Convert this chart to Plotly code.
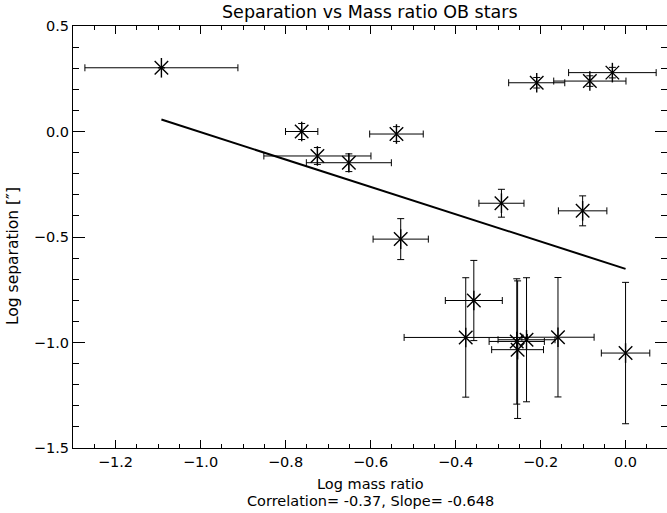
import plotly.graph_objects as go

# ---- data ----
log_q = [-1.092, -0.762, -0.725, -0.651, -0.539, -0.529, -0.292, -0.101, -0.209,
         -0.084, -0.031, -0.357, -0.376, -0.256, -0.254, -0.233, -0.159, 0.000]
log_sep = [0.302, 0.000, -0.116, -0.148, -0.012, -0.510, -0.340, -0.376, 0.231,
           0.239, 0.279, -0.801, -0.976, -0.995, -1.034, -0.987, -0.975, -1.050]
q_err = [0.180, 0.038, 0.126, 0.100, 0.063, 0.065, 0.053, 0.057, 0.066,
         0.085, 0.103, 0.067, 0.145, 0.065, 0.061, 0.067, 0.085, 0.057]
sep_err = [0.000, 0.038, 0.040, 0.042, 0.035, 0.097, 0.066, 0.071, 0.025,
           0.025, 0.025, 0.190, 0.283, 0.297, 0.326, 0.294, 0.283, 0.335]

fit_slope = -0.648
fit_intercept = -0.651
correlation = -0.37

title_text = "Separation vs Mass ratio OB stars"
x_title = "Log mass ratio"
y_title = "Log separation [\u2033]"
stats_text = "Correlation= %.2f, Slope= %.3f" % (correlation, fit_slope)

FONT = "DejaVu Sans"

fig = go.Figure()

# error bars + diagonal arms of the asterisk
fig.add_trace(go.Scatter(
    x=log_q, y=log_sep, mode="markers",
    marker=dict(symbol="x-thin-open", size=13.5, color="black",
                line=dict(color="black", width=1.4)),
    error_x=dict(type="data", array=q_err, color="black", thickness=1, width=3.5),
    error_y=dict(type="data", array=sep_err, color="black", thickness=1, width=3.5),
    showlegend=False, hoverinfo="skip"))
# vertical arm of the asterisk
fig.add_trace(go.Scatter(
    x=log_q, y=log_sep, mode="markers",
    marker=dict(symbol="line-ns-open", size=14, color="black",
                line=dict(color="black", width=1.4)),
    showlegend=False, hoverinfo="skip"))

# fit line
x0, x1 = min(log_q), max(log_q)
fig.add_trace(go.Scatter(
    x=[x0, x1], y=[fit_intercept + fit_slope * x0, fit_intercept + fit_slope * x1],
    mode="lines", line=dict(color="black", width=2),
    showlegend=False, hoverinfo="skip"))

axis_common = dict(showgrid=False, zeroline=False, showline=True, linecolor="black",
                   linewidth=1.2, mirror="ticks", ticks="inside", tickcolor="black",
                   tickwidth=1, tickfont=dict(family=FONT, size=14.5, color="black"))

fig.update_xaxes(range=[-1.3, 0.0975], tick0=0, dtick=0.2, tickformat=".1f",
                 ticklen=8,
                 minor=dict(ticks="inside", dtick=0.05, ticklen=4, tickcolor="black",
                            tickwidth=1),
                 **axis_common)
fig.update_yaxes(range=[-1.5, 0.5], tick0=0, dtick=0.5, tickformat=".1f",
                 ticklen=12,
                 minor=dict(ticks="inside", dtick=0.1, ticklen=6, tickcolor="black",
                            tickwidth=1),
                 **axis_common)

fig.update_layout(
    width=667, height=513,
    margin=dict(l=73, r=0, t=26, b=65),
    paper_bgcolor="white", plot_bgcolor="white",
    font=dict(family=FONT, color="black"),
    annotations=[
        dict(text=title_text, xref="paper", yref="paper", x=0.5, y=1, yshift=14,
             xanchor="center", yanchor="middle", showarrow=False,
             font=dict(family=FONT, size=17.5, color="black")),
        dict(text=x_title, xref="paper", yref="paper", x=0.5, y=0, yshift=-36,
             xanchor="center", yanchor="middle", showarrow=False,
             font=dict(family=FONT, size=14.5, color="black")),
        dict(text=stats_text, xref="paper", yref="paper", x=0.5, y=0, yshift=-53,
             xanchor="center", yanchor="middle", showarrow=False,
             font=dict(family=FONT, size=14.5, color="black")),
        dict(text=y_title, xref="paper", yref="paper", x=0, y=0.5, xshift=-60,
             yshift=-19, textangle=-90, xanchor="center", yanchor="middle",
             showarrow=False, font=dict(family=FONT, size=15.5, color="black")),
    ],
)

fig.write_html(
    "out.html",
    config={"displayModeBar": False},
    post_script="document.body.style.margin='0px';document.body.style.overflow='hidden';",
)
